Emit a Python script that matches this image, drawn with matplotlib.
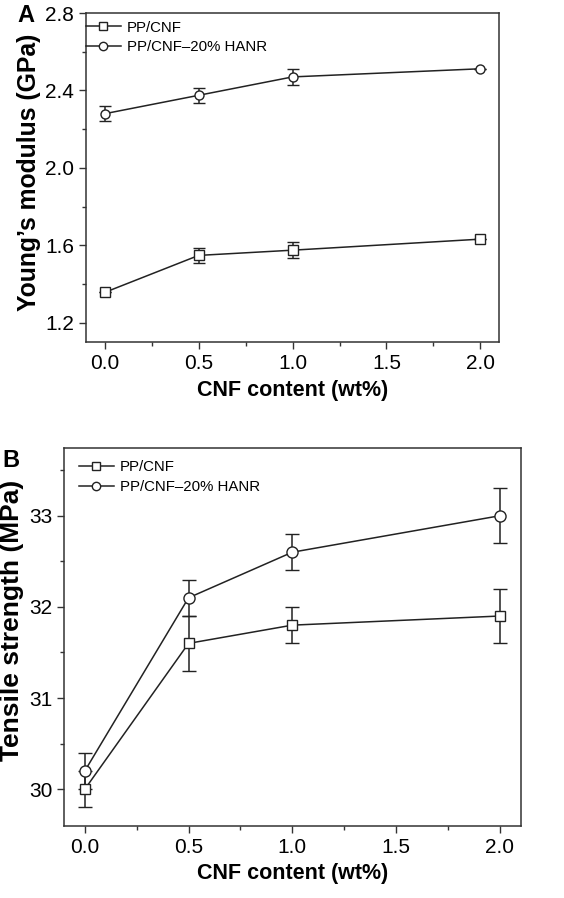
import numpy as np
import matplotlib
matplotlib.use("Agg")
import matplotlib.pyplot as plt
from matplotlib.ticker import MultipleLocator
from matplotlib.lines import Line2D

plt.rcParams['font.family'] = ['Liberation Sans', 'DejaVu Sans']

cnf = [0.0, 0.5, 1.0, 2.0]

# panel A: Young's modulus (GPa)
mod_pp = [1.357, 1.548, 1.575, 1.632]
mod_pp_err = [0.0, 0.04, 0.04, 0.0]
mod_hanr = [2.28, 2.375, 2.47, 2.512]
mod_hanr_err = [0.04, 0.04, 0.04, 0.0]

# panel B: tensile strength (MPa)
ts_pp = [30.0, 31.6, 31.8, 31.9]
ts_pp_err = [0.2, 0.3, 0.2, 0.3]
ts_hanr = [30.2, 32.1, 32.6, 33.0]
ts_hanr_err = [0.2, 0.2, 0.2, 0.3]

labels = ["PP/CNF", "PP/CNF\u201320% HANR"]
col = "#222222"

fig = plt.figure(figsize=(5.64, 8.98), dpi=100)
axA = fig.add_axes([0.1525, 0.619, 0.7325, 0.3665])
axB = fig.add_axes([0.1135, 0.0805, 0.8095, 0.4203])


def draw(ax, ys, errs, sizes, cap):
    handles = []
    for y, e, m, s in zip(ys, errs, ["s", "o"], sizes):
        ax.errorbar(cnf, y, yerr=e, color=col, lw=1.1, marker=m, ms=s,
                    mfc="white", mec=col, mew=1.0, capsize=cap, elinewidth=1.1,
                    capthick=1.1)
        handles.append(Line2D([], [], color=col, lw=1.1, marker=m, ms=6,
                              mfc="white", mec=col, mew=1.0))
    ax.set_xlim(-0.1, 2.1)
    ax.xaxis.set_major_locator(MultipleLocator(0.5))
    ax.xaxis.set_minor_locator(MultipleLocator(0.25))
    ax.xaxis.set_major_formatter(plt.FormatStrFormatter("%.1f"))
    ax.tick_params(which="both", direction="out", top=False, right=False,
                   labelsize=15, width=1.0, color="#333333")
    ax.tick_params(which="major", length=5)
    ax.tick_params(which="minor", length=3)
    for s in ax.spines.values():
        s.set_linewidth(1.1)
        s.set_color("#333333")
    ax.set_xlabel("CNF content (wt%)", fontsize=15.5, fontweight="bold", labelpad=5)
    return handles


h = draw(axA, [mod_pp, mod_hanr], [mod_pp_err, mod_hanr_err], [6.5, 6.5], 4.5)
axA.set_ylim(1.1, 2.8)
axA.yaxis.set_major_locator(MultipleLocator(0.4))
axA.yaxis.set_minor_locator(MultipleLocator(0.2))
axA.yaxis.set_major_formatter(plt.FormatStrFormatter("%.1f"))
axA.set_ylabel("Young\u2019s modulus (GPa)", fontsize=17.8, fontweight="bold")
axA.yaxis.set_label_coords(-0.108, 0.515)
axA.legend(h, labels, loc="upper left", bbox_to_anchor=(0.0, 0.977),
           frameon=False, fontsize=10.8, handlelength=2.3, handletextpad=0.4,
           borderaxespad=0.0, borderpad=0.0, labelspacing=0.38)
fig.text(0.03, 0.995, "A", fontsize=17, fontweight="bold", va="top", ha="left")

h = draw(axB, [ts_pp, ts_hanr], [ts_pp_err, ts_hanr_err], [6.5, 8], 5)
axB.set_ylim(29.6, 33.74)
axB.yaxis.set_major_locator(MultipleLocator(1))
axB.yaxis.set_minor_locator(MultipleLocator(0.5))
axB.set_ylabel("Tensile strength (MPa)", fontsize=19, fontweight="bold")
axB.yaxis.set_label_coords(-0.088, 0.545)
axB.legend(h, labels, loc="upper left", bbox_to_anchor=(0.033, 0.968),
           frameon=False, fontsize=10.8, handlelength=2.3, handletextpad=0.4,
           borderaxespad=0.0, borderpad=0.0, labelspacing=0.38)
fig.text(0.004, 0.5, "B", fontsize=17, fontweight="bold", va="top", ha="left")

fig.savefig("out.png", dpi=100)
